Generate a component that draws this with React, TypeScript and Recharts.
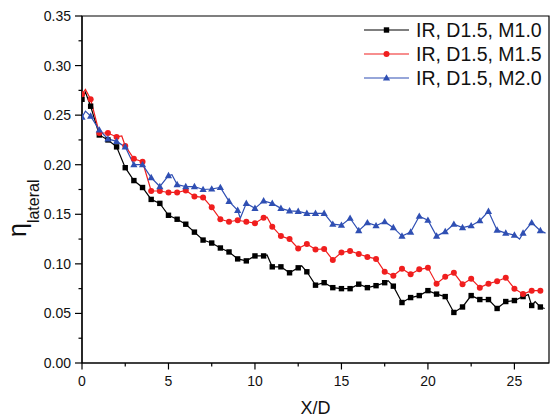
import React from 'react';
import { LineChart, Line, XAxis, YAxis, ReferenceArea, Legend } from 'recharts';

const FONT = '"Liberation Sans", Arial, Helvetica, sans-serif';

const seriesNames = ['IR, D1.5, M1.0', 'IR, D1.5, M1.5', 'IR, D1.5, M2.0'];
const seriesColors = ['#000000', '#f01e1e', '#2f4fb3'];

const xM10 = [0, 0.2, 0.5, 1, 1.5, 2, 2.5, 3, 3.5, 4, 4.5, 5, 5.5, 6, 6.5, 7, 7.5, 8, 8.5, 9, 9.5, 10, 10.5, 10.7, 11, 11.5, 12, 12.5, 12.7, 13, 13.5, 14, 14.5, 15, 15.5, 16, 16.5, 17, 17.5, 17.7, 18, 18.5, 19, 19.5, 20, 20.5, 21, 21.5, 22, 22.5, 23, 23.5, 24, 24.5, 25, 25.5, 25.8, 26, 26.2, 26.5, 26.75];
const yM10 = [0.266, 0.273, 0.259, 0.230, 0.225, 0.218, 0.197, 0.184, 0.177, 0.165, 0.161, 0.149, 0.145, 0.140, 0.132, 0.124, 0.121, 0.116, 0.112, 0.105, 0.103, 0.108, 0.108, 0.109, 0.097, 0.097, 0.091, 0.096, 0.098, 0.092, 0.0785, 0.081, 0.076, 0.075, 0.075, 0.0795, 0.076, 0.078, 0.081, 0.083, 0.0775, 0.061, 0.066, 0.068, 0.073, 0.0695, 0.067, 0.051, 0.0565, 0.068, 0.064, 0.064, 0.055, 0.062, 0.063, 0.067, 0.069, 0.058, 0.062, 0.0565, 0.055];

const xM15 = [0, 0.2, 0.5, 1, 1.5, 2, 2.3, 2.5, 3, 3.5, 4, 4.5, 5, 5.5, 6, 6.5, 7, 7.5, 8, 8.5, 9, 9.5, 10, 10.5, 10.7, 11, 11.5, 12, 12.5, 13, 13.5, 14, 14.5, 15, 15.5, 16, 16.5, 17, 17.5, 18, 18.5, 19, 19.5, 20, 20.5, 21, 21.5, 22, 22.5, 23, 23.5, 24, 24.5, 25, 25.5, 26, 26.5, 26.6];
const yM15 = [0.271, 0.276, 0.266, 0.232, 0.232, 0.228, 0.229, 0.219, 0.206, 0.203, 0.1735, 0.1735, 0.172, 0.172, 0.174, 0.168, 0.167, 0.157, 0.145, 0.1425, 0.144, 0.1425, 0.141, 0.1465, 0.147, 0.1375, 0.128, 0.125, 0.1155, 0.120, 0.1145, 0.115, 0.104, 0.1115, 0.113, 0.110, 0.107, 0.105, 0.092, 0.088, 0.095, 0.0895, 0.0945, 0.096, 0.080, 0.087, 0.091, 0.0795, 0.085, 0.076, 0.080, 0.0825, 0.086, 0.075, 0.0695, 0.073, 0.073, 0.072];

const xM20 = [0, 0.2, 0.5, 1, 1.5, 2, 2.5, 3, 3.5, 4, 4.5, 5, 5.2, 5.5, 6, 6.5, 7, 7.5, 8, 8.5, 9, 9.15, 9.5, 10, 10.5, 11, 11.5, 12, 12.5, 13, 13.5, 14, 14.5, 15, 15.5, 16, 16.5, 17, 17.5, 18, 18.5, 19, 19.5, 20, 20.5, 21, 21.5, 22, 22.5, 23, 23.5, 24, 24.5, 25, 25.3, 25.5, 26, 26.5, 26.8];
const yM20 = [0.248, 0.254, 0.249, 0.235, 0.226, 0.2235, 0.218, 0.200, 0.200, 0.187, 0.178, 0.189, 0.190, 0.180, 0.178, 0.178, 0.175, 0.1755, 0.177, 0.163, 0.154, 0.146, 0.161, 0.156, 0.1635, 0.161, 0.156, 0.1535, 0.153, 0.151, 0.151, 0.151, 0.140, 0.139, 0.146, 0.1335, 0.1415, 0.1385, 0.1425, 0.1365, 0.128, 0.132, 0.148, 0.144, 0.128, 0.1325, 0.140, 0.1365, 0.1385, 0.1435, 0.153, 0.134, 0.131, 0.129, 0.125, 0.131, 0.1415, 0.1335, 0.131];

const xTicks = [0, 2.5, 5, 7.5, 10, 12.5, 15, 17.5, 20, 22.5, 25];
const yTicks = [0, 0.025, 0.05, 0.075, 0.1, 0.125, 0.15, 0.175, 0.2, 0.225, 0.25, 0.275, 0.3, 0.325, 0.35];

const build = (xs: number[], ys: number[]) => xs.map((x, i) => ({ x, y: ys[i] }));
const dataM10 = build(xM10, yM10);
const dataM15 = build(xM15, yM15);
const dataM20 = build(xM20, yM20);

const isMarker = (x: number) => Math.abs(x * 2 - Math.round(x * 2)) < 1e-6;

const Marker = ({ kind, cx, cy, color }: { kind: number; cx: number; cy: number; color: string }) => {
  if (kind === 0) return <rect x={cx - 2.7} y={cy - 2.7} width={5.4} height={5.4} fill={color} />;
  if (kind === 1) return <circle cx={cx} cy={cy} r={3} fill={color} />;
  return <polygon points={`${cx},${cy - 3.8} ${cx - 3.6},${cy + 2.6} ${cx + 3.6},${cy + 2.6}`} fill={color} />;
};

const makeDot = (kind: number, color: string) => (props: any) => {
  const { cx, cy, payload, index } = props;
  if (cx == null || cy == null || !isMarker(payload.x)) return <g key={`d${kind}-${index}`} />;
  return (
    <g key={`d${kind}-${index}`}>
      <Marker kind={kind} cx={cx} cy={cy} color={color} />
    </g>
  );
};

const YTick = (props: any) => {
  const { x, y, payload } = props;
  const v = payload.value;
  const major = Math.round(v * 1000) % 50 === 0;
  return (
    <g>
      <line x1={x - (major ? 7 : 3.5)} x2={x} y1={y} y2={y} stroke="#000" strokeWidth={1.2} />
      {major && (
        <text x={x - 11} y={y + 5} textAnchor="end" fontSize={14} fontFamily={FONT} fill="#111">
          {v.toFixed(2)}
        </text>
      )}
    </g>
  );
};

const XTick = (props: any) => {
  const { x, y, payload } = props;
  const v = payload.value;
  const major = Math.round(v * 10) % 50 === 0;
  return (
    <g>
      <line x1={x} x2={x} y1={y} y2={y + (major ? 6.5 : 3.5)} stroke="#000" strokeWidth={1.2} />
      {major && (
        <text x={x} y={y + 23} textAnchor="middle" fontSize={14} fontFamily={FONT} fill="#111">
          {String(v)}
        </text>
      )}
    </g>
  );
};

const YLabel = () => (
  <text transform="rotate(-90)" fontFamily={FONT} fill="#111">
    <tspan x={-237} y={26} fontSize={25}>η</tspan>
    <tspan y={39} fontSize={16}>lateral</tspan>
  </text>
);

const XLabel = () => (
  <text x={315.5} y={414} textAnchor="middle" fontSize={18} fontFamily={FONT} fill="#111">
    X/D
  </text>
);

const LegendContent = () => (
  <svg width={200} height={80} style={{ display: 'block' }}>
    {seriesNames.map((name, i) => {
      const cy = 14 + i * 24;
      return (
        <g key={name}>
          <line x1={4} x2={49} y1={cy} y2={cy} stroke={seriesColors[i]} strokeWidth={1.2} />
          <Marker kind={i} cx={26.5} cy={cy} color={seriesColors[i]} />
          <text x={56} y={cy + 7} fontSize={19.5} fontFamily={FONT} fill="#111">
            {name}
          </text>
        </g>
      );
    })}
  </svg>
);

export default function App() {
  return (
    <div style={{ position: 'absolute', left: 0, top: 0, width: 560, height: 418, background: '#fff' }}>
      <LineChart width={560} height={418} margin={{ top: 16, right: 11, bottom: 0, left: 0 }}>
        <XAxis
          dataKey="x"
          type="number"
          domain={[0, 27]}
          allowDataOverflow
          ticks={xTicks}
          interval={0}
          height={55}
          tickSize={0}
          tickMargin={0}
          tickLine={false}
          tick={<XTick />}
          axisLine={{ stroke: '#000', strokeWidth: 1.2 }}
          label={{ content: () => <XLabel /> }}
        />
        <YAxis
          dataKey="y"
          type="number"
          domain={[0, 0.35]}
          allowDataOverflow
          ticks={yTicks}
          interval={0}
          width={82}
          tickSize={0}
          tickMargin={0}
          tickLine={false}
          tick={<YTick />}
          axisLine={{ stroke: '#000', strokeWidth: 1.2 }}
          label={{ content: () => <YLabel /> }}
        />
        <ReferenceArea x1={0} x2={27} y1={0} y2={0.35} fill="none" stroke="#000" strokeWidth={1.2} />
        <Line data={dataM10} dataKey="y" name={seriesNames[0]} stroke={seriesColors[0]} strokeWidth={1.2} dot={makeDot(0, seriesColors[0])} activeDot={false} isAnimationActive={false} />
        <Line data={dataM15} dataKey="y" name={seriesNames[1]} stroke={seriesColors[1]} strokeWidth={1.2} dot={makeDot(1, seriesColors[1])} activeDot={false} isAnimationActive={false} />
        <Line data={dataM20} dataKey="y" name={seriesNames[2]} stroke={seriesColors[2]} strokeWidth={1.2} dot={makeDot(2, seriesColors[2])} activeDot={false} isAnimationActive={false} />
        <Legend
          layout="horizontal"
          verticalAlign="middle"
          align="center"
          content={() => <LegendContent />}
          wrapperStyle={{ position: 'absolute', left: 360, top: 16, width: 200, height: 80 }}
        />
      </LineChart>
    </div>
  );
}
